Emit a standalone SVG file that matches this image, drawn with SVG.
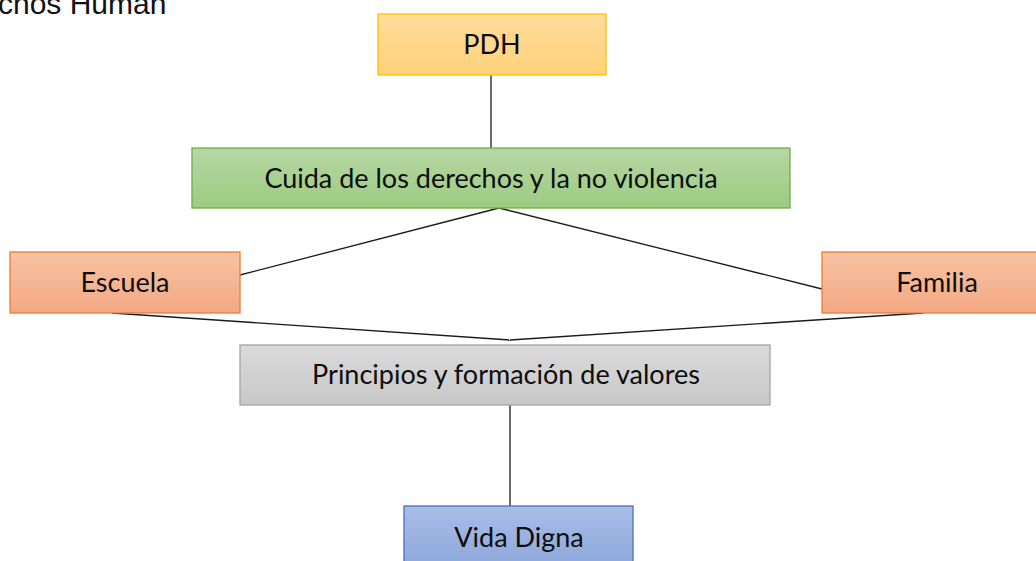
<svg xmlns="http://www.w3.org/2000/svg" width="1036" height="561" viewBox="0 0 1036 561">
<defs>
<linearGradient id="gY" x1="0" y1="0" x2="0" y2="1"><stop offset="0" stop-color="#ffdc9c"/><stop offset="1" stop-color="#ffd27a"/></linearGradient>
<linearGradient id="gG" x1="0" y1="0" x2="0" y2="1"><stop offset="0" stop-color="#b6d7a3"/><stop offset="1" stop-color="#9dcb82"/></linearGradient>
<linearGradient id="gO" x1="0" y1="0" x2="0" y2="1"><stop offset="0" stop-color="#f7c3a5"/><stop offset="1" stop-color="#f4a883"/></linearGradient>
<linearGradient id="gS" x1="0" y1="0" x2="0" y2="1"><stop offset="0" stop-color="#dadada"/><stop offset="1" stop-color="#c8c8c8"/></linearGradient>
<linearGradient id="gB" x1="0" y1="0" x2="0" y2="1"><stop offset="0" stop-color="#a9bde6"/><stop offset="1" stop-color="#8ea8dc"/></linearGradient>
</defs>
<style>
.t{font-family:Lato,"Open Sans",sans-serif;font-size:27px;fill:#0d0d0d;text-anchor:middle}
.c{stroke:#1a1a1a;stroke-width:1.3;fill:none}
</style>
<rect width="1036" height="561" fill="#fff"/>
<text x="-2" y="14" style="font-family:'Liberation Sans',Arial,sans-serif;font-size:30px;fill:#111">chos Human</text>
<g id="connectors">
<line class="c" x1="491" y1="75" x2="491" y2="148"/>
<line class="c" x1="499" y1="208" x2="240" y2="275"/>
<line class="c" x1="499" y1="208" x2="822" y2="289"/>
<line class="c" x1="112" y1="313" x2="510" y2="340"/>
<line class="c" x1="923" y1="313" x2="510" y2="340"/>
<line class="c" x1="510" y1="405" x2="510" y2="506"/>
</g>
<g id="pdh">
<rect x="378" y="14" width="228" height="61" fill="url(#gY)" stroke="#ffc000" stroke-width="1.3"/>
<text class="t" x="492" y="54">PDH</text>
</g>
<g id="cuida">
<rect x="192" y="148" width="598" height="60" fill="url(#gG)" stroke="#70ad47" stroke-width="1.3"/>
<text class="t" x="491" y="188">Cuida de los derechos y la no violencia</text>
</g>
<g id="escuela">
<rect x="10" y="252" width="230" height="61" fill="url(#gO)" stroke="#ed7d31" stroke-width="1.3"/>
<text class="t" x="125" y="292">Escuela</text>
</g>
<g id="familia">
<rect x="822" y="252" width="220" height="61" fill="url(#gO)" stroke="#ed7d31" stroke-width="1.3"/>
<text class="t" x="937" y="292">Familia</text>
</g>
<g id="principios">
<rect x="240" y="345" width="530" height="60" fill="url(#gS)" stroke="#a5a5a5" stroke-width="1.3"/>
<text class="t" x="506" y="384">Principios y formación de valores</text>
</g>
<g id="vida">
<rect x="404" y="506" width="229" height="60" fill="url(#gB)" stroke="#4472c4" stroke-width="1.3"/>
<text class="t" x="519" y="547">Vida Digna</text>
</g>
</svg>
